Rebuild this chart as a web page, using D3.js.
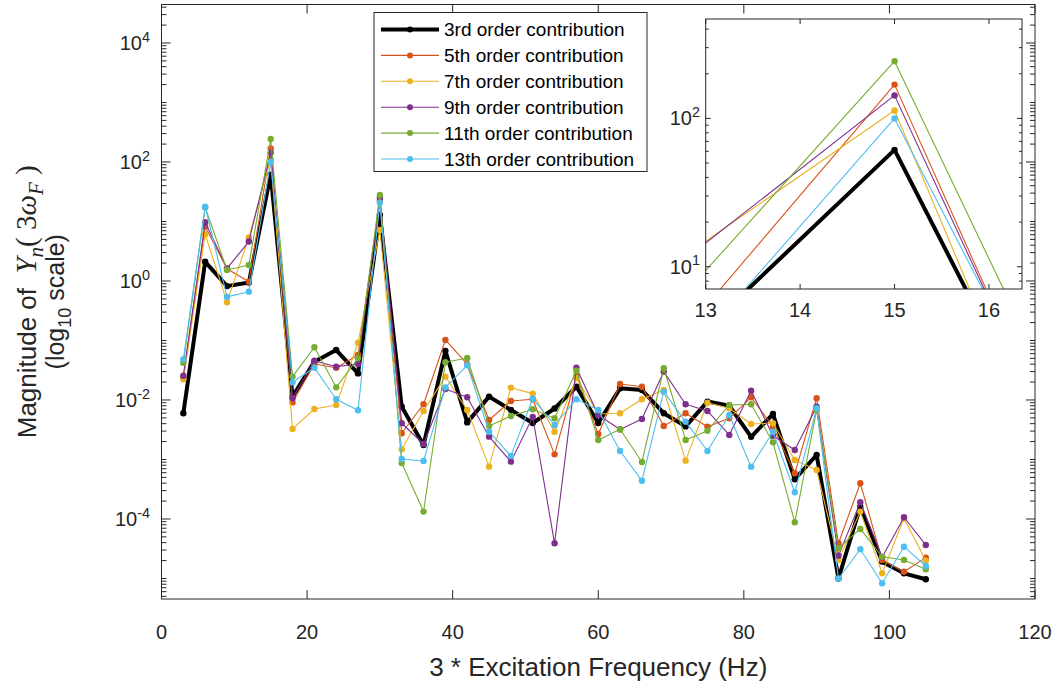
<!DOCTYPE html>
<meta charset="utf-8">
<html>
<head>
  <title>Magnitude of Y_n(3wF)</title>
  <script src="https://cdn.jsdelivr.net/npm/d3@7"></script>
  <style>
    body { margin: 0; background: #fff; }
    text { font-family: "Liberation Sans", Arial, sans-serif; fill: #262626; }
    .math { font-family: "Liberation Serif", "Times New Roman", serif; font-style: italic; }
  </style>
</head>
<body>
  <svg id="svg" width="1062" height="690"></svg>
  <script>
    // excitation frequency (x3), Hz
    var freq = [3, 6, 9, 12, 15, 18, 21, 24, 27, 30, 33, 36, 39, 42, 45, 48, 51, 54, 57, 60,
      63, 66, 69, 72, 75, 78, 81, 84, 87, 90, 93, 96, 99, 102, 105];

    var order3 = [0.0060, 2.1, 0.82, 0.94, 61.4, 0.0114, 0.044, 0.069, 0.028, 12.9,
      0.0077, 0.00175, 0.067, 0.0042, 0.0114, 0.0068, 0.0041, 0.0072, 0.0167, 0.0041,
      0.0157, 0.0147, 0.0060, 0.0036, 0.0094, 0.0080, 0.0024, 0.0058, 0.000465, 0.00119,
      1.0e-5, 0.000161, 1.92e-5, 1.22e-5, 9.7e-6];
    var order5 = [0.024, 8.2, 1.6, 0.97, 169, 0.0091, 0.0403, 0.0349, 0.057, 22,
      0.00276, 0.00847, 0.102, 0.040, 0.00461, 0.00962, 0.0103, 0.00122, 0.0253, 0.00268,
      0.0186, 0.0167, 0.00366, 0.00598, 0.00356, 0.00492, 0.0111, 0.00356, 0.000586, 0.0107,
      3.9e-5, 0.000398, 2.05e-5, 1.3e-5, 2.24e-5];
    var order7 = [0.0223, 6.1, 0.44, 5.4, 113, 0.00326, 0.00706, 0.00824, 0.0918, 7.2,
      0.00148, 0.00653, 0.0247, 0.00679, 0.000757, 0.0161, 0.0128, 0.00293, 0.0232, 0.00582,
      0.00598, 0.0103, 0.0147, 0.000955, 0.0090, 0.00725, 0.00395, 0.00406, 0.00098, 0.000667,
      2.05e-5, 0.000133, 1.22e-5, 0.000103, 1.99e-5];
    var order9 = [0.0256, 9.7, 1.63, 4.6, 143, 0.0107, 0.0458, 0.0363, 0.0403, 25,
      0.00406, 0.00182, 0.0153, 0.0111, 0.00242, 0.00092, 0.00518, 3.9e-5, 0.0349, 0.0056,
      0.0032, 0.0048, 0.0299, 0.00847, 0.00653, 0.00258, 0.0143, 0.00251, 0.00144, 0.0077,
      2.42e-5, 0.000191, 2.28e-5, 0.000107, 3.66e-5];
    var order11 = [0.0423, 17.4, 1.53, 1.86, 243, 0.0247, 0.0769, 0.0163, 0.0502, 27.9,
      0.00087, 0.000133, 0.043, 0.0508, 0.00366, 0.00538, 0.00698, 0.00492, 0.031, 0.00213,
      0.00322, 0.000908, 0.0341, 0.00213, 0.00305, 0.00824, 0.00847, 0.00194, 8.8e-5, 0.0068,
      3.22e-5, 6.8e-5, 2.32e-5, 2.05e-5, 1.43e-5];
    var order13 = [0.0483, 17.7, 0.54, 0.66, 100, 0.0198, 0.0349, 0.0103, 0.00671, 20.7,
      0.00102, 0.000944, 0.0163, 0.0383, 0.00293, 0.00115, 0.0105, 0.0038, 0.0103, 0.00679,
      0.00139, 0.00044, 0.0138, 0.00432, 0.00139, 0.0056, 0.000757, 0.00293, 0.000281, 0.00725,
      1.0e-5, 3.1e-5, 8.3e-6, 3.42e-5, 1.62e-5];

    var seriesNames = ["3rd order contribution", "5th order contribution", "7th order contribution",
      "9th order contribution", "11th order contribution", "13th order contribution"];
    var seriesValues = [order3, order5, order7, order9, order11, order13];
    var seriesColors = ["#000000", "#D95319", "#EDB120", "#7E2F8E", "#77AC30", "#4DBEEE"];

    var xTicks = [0, 20, 40, 60, 80, 100, 120];
    var yTicks = [1e-4, 1e-2, 1, 1e2, 1e4];
    var insetXTicks = [13, 14, 15, 16];
    var insetYTicks = [10, 100];

    var series = seriesNames.map(function (name, i) {
      return {
        name: name,
        color: seriesColors[i],
        width: i === 0 ? 4 : 1.1,
        points: freq.map(function (f, j) { return [f, seriesValues[i][j]]; })
      };
    });

    var axisColor = "#262626";
    var svg = d3.select("#svg");

    // main axes
    var plotL = 161.5, plotR = 1035, plotT = 4.5, plotB = 599;
    var x = d3.scaleLinear().domain([0, 120]).range([plotL, plotR]);
    var y = d3.scaleLog().domain([Math.pow(10, -5.345), Math.pow(10, 4.647)]).range([plotB, plotT]);

    function minorTicks(scale) {
      var d = scale.domain(), out = [];
      for (var k = Math.floor(Math.log10(d[0])); k <= Math.ceil(Math.log10(d[1])); k++) {
        for (var m = 1; m < 10; m++) {
          var v = m * Math.pow(10, k);
          if (v >= d[0] && v <= d[1]) out.push(v);
        }
      }
      return out;
    }

    // draws box, inward ticks on all four sides
    function drawFrame(g, xs, ys, xt, yt, majorLen, minorLen) {
      var r = xs.range(), rr = ys.range();
      var L = r[0], R = r[1], B = rr[0], T = rr[1];
      g.append("rect")
        .attr("x", L).attr("y", T).attr("width", R - L).attr("height", B - T)
        .attr("fill", "none").attr("stroke", axisColor).attr("stroke-width", 1);
      var tk = g.append("g").attr("stroke", axisColor).attr("stroke-width", 1);
      tk.selectAll(".xb").data(xt).enter().append("line")
        .attr("x1", xs).attr("x2", xs).attr("y1", B).attr("y2", B - majorLen);
      tk.selectAll(".xt").data(xt).enter().append("line")
        .attr("x1", xs).attr("x2", xs).attr("y1", T).attr("y2", T + majorLen);
      var mins = minorTicks(ys);
      var majors = yt.map(function (v) { return Math.log10(v); });
      function len(v) {
        return majors.indexOf(Math.round(Math.log10(v) * 1000) / 1000) >= 0 ? majorLen : minorLen;
      }
      tk.selectAll(".yl").data(mins).enter().append("line")
        .attr("y1", ys).attr("y2", ys).attr("x1", L)
        .attr("x2", function (v) { return L + len(v); });
      tk.selectAll(".yr").data(mins).enter().append("line")
        .attr("y1", ys).attr("y2", ys).attr("x1", R)
        .attr("x2", function (v) { return R - len(v); });
    }

    function powerLabels(g, ys, vals, xr, fs) {
      var t = g.selectAll(".pl").data(vals).enter().append("text")
        .attr("x", xr).attr("y", function (v) { return ys(v) + fs * 0.35; })
        .attr("text-anchor", "end")
        .style("font-size", fs + "px");
      t.append("tspan").text("10");
      t.append("tspan")
        .attr("dy", -fs * 0.42)
        .style("font-size", (fs * 0.72) + "px")
        .text(function (v) { return String(Math.round(Math.log10(v))); });
    }

    var line = d3.line()
      .x(function (d) { return x(d[0]); })
      .y(function (d) { return y(d[1]); });

    var mainG = svg.append("g");
    series.forEach(function (s) {
      mainG.append("path")
        .datum(s.points)
        .attr("fill", "none")
        .attr("stroke", s.color)
        .attr("stroke-width", s.width)
        .attr("stroke-linejoin", "round")
        .attr("d", line);
      mainG.selectAll(null)
        .data(s.points)
        .enter()
        .append("circle")
        .attr("cx", function (d) { return x(d[0]); })
        .attr("cy", function (d) { return y(d[1]); })
        .attr("r", 3.2)
        .attr("fill", s.color);
    });

    drawFrame(svg.append("g"), x, y, xTicks, yTicks, 9, 5);

    svg.append("g").selectAll("text")
      .data(xTicks).enter().append("text")
      .attr("x", x).attr("y", 639)
      .attr("text-anchor", "middle")
      .style("font-size", "20px")
      .text(function (d) { return d; });

    powerLabels(svg.append("g"), y, yTicks, 150, 20);

    svg.append("text")
      .attr("x", (plotL + plotR) / 2).attr("y", 676)
      .attr("text-anchor", "middle")
      .style("font-size", "26px")
      .text("3 * Excitation Frequency (Hz)");

    // y label, two lines
    var yc = (plotT + plotB) / 2;
    var yl1 = svg.append("text")
      .attr("transform", "translate(36," + yc + ") rotate(-90)")
      .attr("text-anchor", "middle")
      .style("font-size", "26px");
    yl1.append("tspan").text("Magnitude of\u00a0\u00a0");
    yl1.append("tspan").attr("class", "math").style("font-size", "29px").text("Y");
    yl1.append("tspan").attr("class", "math").attr("dy", 7).style("font-size", "21px").text("n");
    yl1.append("tspan").attr("class", "math").attr("dy", -7).style("font-size", "29px")
      .style("font-style", "normal").text("(\u00a03");
    yl1.append("tspan").attr("class", "math").style("font-size", "29px").text("ω");
    yl1.append("tspan").attr("class", "math").attr("dy", 7).style("font-size", "21px").text("F");
    yl1.append("tspan").attr("class", "math").attr("dy", -7).style("font-size", "29px")
      .style("font-style", "normal").text("\u00a0)");

    var yl2 = svg.append("text")
      .attr("transform", "translate(64," + yc + ") rotate(-90)")
      .attr("text-anchor", "middle")
      .style("font-size", "25px");
    yl2.append("tspan").text("(log");
    yl2.append("tspan").attr("dy", 7).style("font-size", "18px").text("10");
    yl2.append("tspan").attr("dy", -7).text(" scale)");

    // legend
    var leg = svg.append("g");
    leg.append("rect")
      .attr("x", 374).attr("y", 12.5).attr("width", 273).attr("height", 159)
      .attr("fill", "#fff").attr("stroke", axisColor).attr("stroke-width", 1);
    var items = leg.selectAll(".item").data(series).enter().append("g")
      .attr("transform", function (d, i) { return "translate(0," + (29.5 + i * 25.9) + ")"; });
    items.append("line")
      .attr("x1", 381).attr("x2", 439)
      .attr("stroke", function (d) { return d.color; })
      .attr("stroke-width", function (d) { return d.width; });
    items.append("circle")
      .attr("cx", 410).attr("r", 3)
      .attr("fill", function (d) { return d.color; });
    items.append("text")
      .attr("x", 444).attr("y", 6.5)
      .style("font-size", "19px")
      .style("fill", "#000")
      .text(function (d) { return d.name; });

    // inset zoom around the 15 Hz peak
    var ix = d3.scaleLinear().domain([13, 16.35]).range([705.7, 1022]);
    var iy = d3.scaleLog().domain([7.08, 468]).range([289, 19]);
    var inset = svg.append("g");
    inset.append("rect")
      .attr("x", 705.7).attr("y", 19).attr("width", 1022 - 705.7).attr("height", 270)
      .attr("fill", "#fff");
    svg.append("clipPath").attr("id", "insetClip")
      .append("rect")
      .attr("x", 705.7).attr("y", 19).attr("width", 1022 - 705.7).attr("height", 270);
    var iline = d3.line()
      .x(function (d) { return ix(d[0]); })
      .y(function (d) { return iy(d[1]); });
    var ig = inset.append("g").attr("clip-path", "url(#insetClip)");
    series.forEach(function (s) {
      ig.append("path")
        .datum(s.points)
        .attr("fill", "none")
        .attr("stroke", s.color)
        .attr("stroke-width", s.width)
        .attr("stroke-linejoin", "round")
        .attr("d", iline);
      ig.selectAll(null)
        .data(s.points)
        .enter()
        .append("circle")
        .attr("cx", function (d) { return ix(d[0]); })
        .attr("cy", function (d) { return iy(d[1]); })
        .attr("r", 3.2)
        .attr("fill", s.color);
    });
    drawFrame(inset, ix, iy, insetXTicks, insetYTicks, 5, 3);

    inset.selectAll(".ixl").data(insetXTicks).enter().append("text")
      .attr("x", ix).attr("y", 317)
      .attr("text-anchor", "middle")
      .style("font-size", "20px")
      .text(function (d) { return d; });
    powerLabels(inset.append("g"), iy, insetYTicks, 700, 20);
  </script>
</body>
</html>
